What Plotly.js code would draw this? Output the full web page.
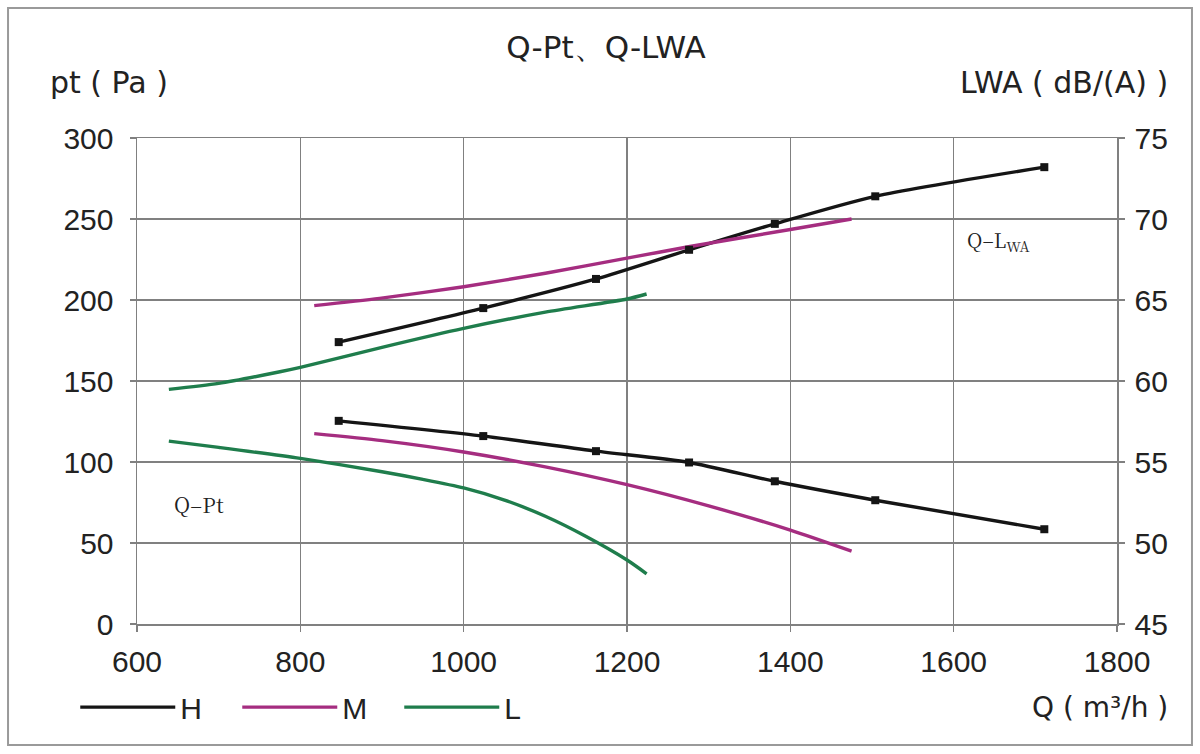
<!DOCTYPE html>
<html>
<head>
<meta charset="utf-8">
<script src="https://cdn.plot.ly/plotly-3.0.1.min.js"></script>
<style>html,body{margin:0;padding:0;background:#fff;}#chart{width:1200px;height:754px;}</style>
</head>
<body>
<div id="chart"></div>
<script>
// ---- data ----
const seriesNames = ["H", "M", "L"];
// H (with square markers)
const H_Q   = [847, 1024, 1162, 1276, 1381, 1504, 1711];
const H_pt  = [125.4, 116, 106.7, 99.7, 88.1, 76.4, 58.5];
const H_lwa = [62.4, 64.5, 66.3, 68.1, 69.7, 71.4, 73.2];
// M
const M_Q_pt  = [817, 900, 1000, 1100, 1200, 1300, 1400, 1475];
const M_pt    = [117.5, 113.2, 106.2, 97, 86, 72.9, 58, 45];
const M_Q_lwa = [817, 897, 1000, 1100, 1200, 1277, 1400, 1475];
const M_lwa   = [64.65, 65.1, 65.82, 66.65, 67.58, 68.3, 69.35, 70.0];
// L
const L_Q_pt  = [639, 700, 800, 900, 950, 1000, 1050, 1100, 1150, 1200, 1224];
const L_pt    = [112.9, 109, 102.2, 94, 89.3, 84, 76.5, 66.5, 54, 39.5, 31];
const L_Q_lwa = [639, 700, 775, 800, 900, 1000, 1100, 1200, 1224];
const L_lwa   = [59.48, 59.85, 60.57, 60.84, 62.08, 63.25, 64.25, 65.06, 65.37];
// axes
const xTicks  = [600, 800, 1000, 1200, 1400, 1600, 1800];
const yTicks  = [0, 50, 100, 150, 200, 250, 300];
const y2Ticks = [45, 50, 55, 60, 65, 70, 75];

const colH = "#151515", colM = "#a52d80", colL = "#1f7d4c";
const sansFont = "Liberation Sans, Arial, sans-serif";
const wideFont = "DejaVu Sans, Liberation Sans, sans-serif";
const serifFont = "Noto Serif CJK SC, Liberation Serif, DejaVu Serif, serif";

function curve(x, y, color, name, axis, showleg) {
  return {
    x: x, y: y, type: "scatter", mode: "lines",
    yaxis: axis, name: name, legendgroup: name, showlegend: showleg,
    line: {color: color, width: 3.4, shape: "spline", smoothing: 0.7},
    hoverinfo: "x+y+name"
  };
}
function pts(x, y, color, name, axis) {
  return {
    x: x, y: y, type: "scatter", mode: "markers",
    yaxis: axis, name: name, legendgroup: name, showlegend: false,
    marker: {symbol: "square", size: 8, color: color},
    hoverinfo: "x+y+name"
  };
}

const data = [
  curve(H_Q, H_lwa, colH, seriesNames[0], "y2", true),
  curve(M_Q_lwa, M_lwa, colM, seriesNames[1], "y2", true),
  curve(L_Q_lwa, L_lwa, colL, seriesNames[2], "y2", true),
  curve(H_Q, H_pt, colH, seriesNames[0], "y", false),
  curve(M_Q_pt, M_pt, colM, seriesNames[1], "y", false),
  curve(L_Q_pt, L_pt, colL, seriesNames[2], "y", false),
  pts(H_Q, H_lwa, colH, seriesNames[0], "y2"),
  pts(H_Q, H_pt, colH, seriesNames[0], "y")
];

const gridCol = "#808080";
const axisCommon = {
  showgrid: true, gridcolor: gridCol, gridwidth: 1.5,
  showline: true, linecolor: gridCol, linewidth: 1.5,
  ticks: "outside", ticklen: 6, tickcolor: gridCol, tickwidth: 1.5,
  zeroline: false,
  tickfont: {family: sansFont, size: 30, color: "#222"}
};

const layout = {
  width: 1200, height: 754,
  paper_bgcolor: "#fff", plot_bgcolor: "#fff",
  margin: {l: 137, r: 83, t: 138, b: 130},
  title: {text: "Q-Pt、Q-LWA", font: {family: wideFont, size: 31, color: "#222"},
          x: 0.505, xanchor: "center", y: 0.938, yanchor: "middle"},
  xaxis: Object.assign({}, axisCommon, {
    range: [600, 1800], tickvals: xTicks, ticktext: xTicks.map(String),
    mirror: true, ticklabelstandoff: 4
  }),
  yaxis: Object.assign({}, axisCommon, {
    range: [0, 300], tickvals: yTicks, ticktext: yTicks.map(String),
    ticklabelstandoff: 10
  }),
  yaxis2: Object.assign({}, axisCommon, {
    range: [45, 75], tickvals: y2Ticks, ticktext: y2Ticks.map(String),
    overlaying: "y", side: "right", showgrid: false, ticklabelstandoff: 4
  }),
  showlegend: true,
  legend: {orientation: "h", x: -0.063, xanchor: "left", y: -0.171, yanchor: "middle",
           font: {family: sansFont, size: 30, color: "#222"},
           itemwidth: 95, entrywidth: 52, tracegroupgap: 0, bgcolor: "rgba(0,0,0,0)"},
  annotations: [
    {text: "pt ( Pa )", xref: "paper", yref: "paper", x: -0.091, y: 1.115,
     xanchor: "left", yanchor: "middle", showarrow: false,
     font: {family: wideFont, size: 30, color: "#222"}},
    {text: "LWA ( dB/(A) )", xref: "paper", yref: "paper", x: 1.054, y: 1.115,
     xanchor: "right", yanchor: "middle", showarrow: false,
     font: {family: wideFont, size: 30, color: "#222"}},
    {text: "Q ( m³/h )", xref: "paper", yref: "paper", x: 1.054, y: -0.171,
     xanchor: "right", yanchor: "middle", showarrow: false,
     font: {family: wideFont, size: 28, color: "#222"}},
    {text: "Q–Pt", xref: "x", yref: "y", x: 676, y: 74, showarrow: false,
     xanchor: "center", yanchor: "middle",
     font: {family: serifFont, size: 21, color: "#222"}},
    {text: "Q–L<sub>WA</sub>", xref: "x", yref: "y", x: 1655, y: 237, showarrow: false,
     xanchor: "center", yanchor: "middle",
     font: {family: serifFont, size: 20, color: "#222"}}
  ],
  shapes: [
    {type: "rect", xref: "paper", yref: "paper", x0: -0.1316, x1: 1.0765, y0: -0.249, y1: 1.2675,
     line: {color: "#9a9a9a", width: 2}, fillcolor: "rgba(0,0,0,0)", layer: "below"}
  ]
};

Plotly.newPlot("chart", data, layout, {displayModeBar: false, staticPlot: true});
</script>
</body>
</html>
